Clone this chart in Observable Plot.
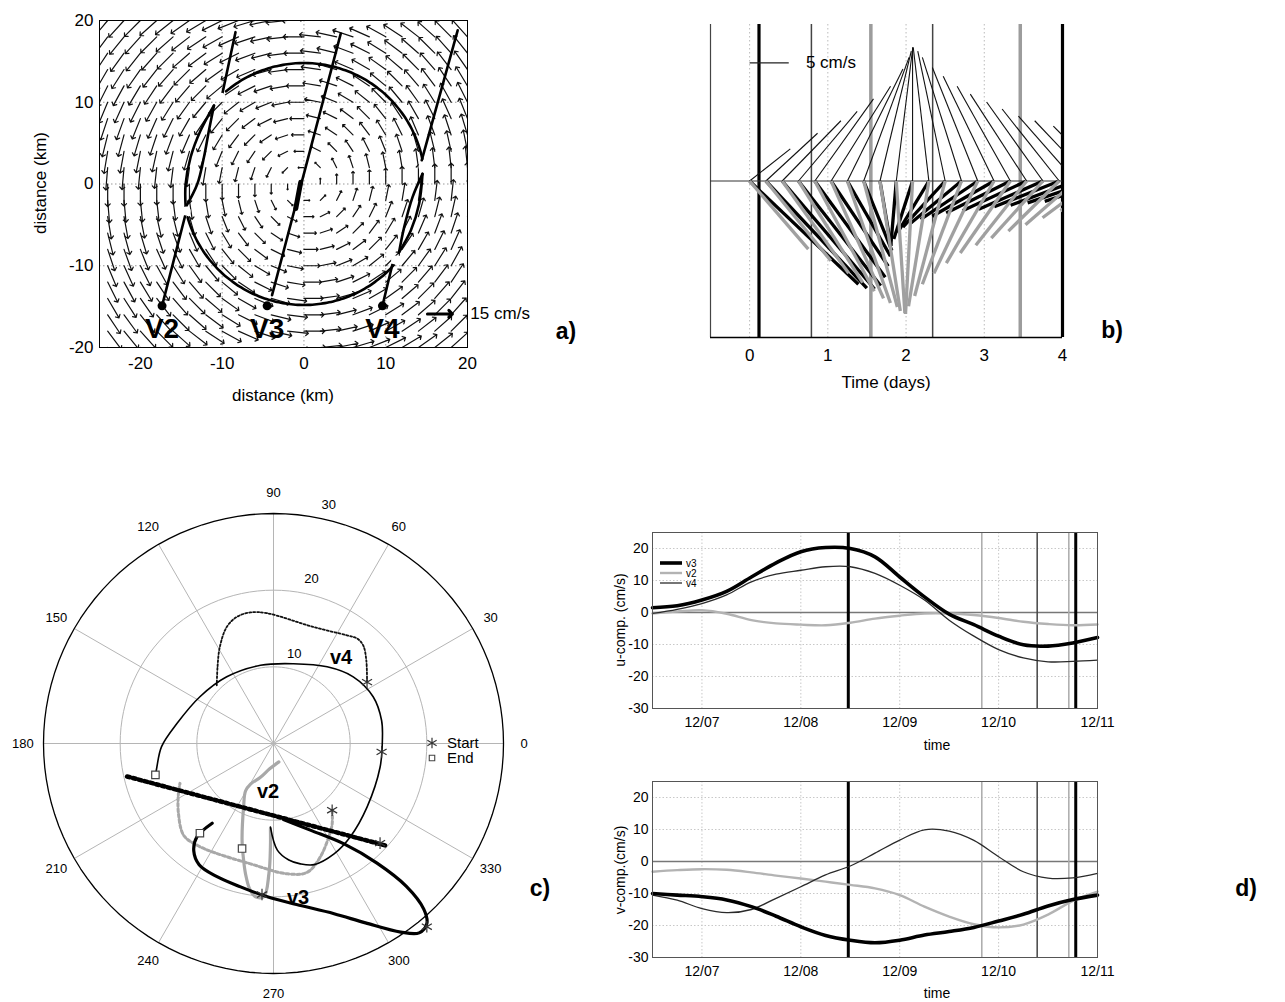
<!DOCTYPE html>
<html><head><meta charset="utf-8">
<script src="https://cdn.jsdelivr.net/npm/d3@7"></script>
<script src="https://cdn.jsdelivr.net/npm/@observablehq/plot@0.6"></script>
<style>
body{margin:0;background:#fff;}
#page{position:relative;width:1285px;height:1002px;overflow:hidden;font-family:"Liberation Sans",Arial,Helvetica,sans-serif;background:#fff;}
.lbl{position:absolute;white-space:nowrap;color:#000;line-height:1;}
</style></head><body><div id="page"></div>
<script>
// ================= DATA =================
// ---- panel a: vortex velocity field (grid, radial speed profile) ----
const aGridX = [-24,-22,-20,-18,-16,-14,-12,-10,-8,-6,-4,-2,0,2,4,6,8,10,12,14,16,18,20];
const aGridY = [-20,-18,-16,-14,-12,-10,-8,-6,-4,-2,0,2,4,6,8,10,12,14,16,18,20];
const aProfileR = [0, 2, 4, 6, 8, 10, 12, 14, 16, 18, 20, 24, 28, 36];      // km
const aProfileS = [0, 3.5, 6, 7.5, 8.5, 9.5, 10.5, 11.5, 12, 12.5, 13, 13.5, 13.5, 13.5]; // cm/s
const aVortexCenter = [0, 0];
const aRefSpeed = 15; // cm/s
const aRefArrowAt = [15.1, -15.9];
const aRingRadius = 14.8;
const aRingArcs = [[130, 12], [196, 318]];
const aV2Lower = [[-17.35,-14.9],[-14.47,-3.67]];
const aV2LensA = [[-14.47,-2.85],[-14.47,0],[-13.86,3.27],[-12.64,6.54],[-11.0,9.6]];
const aV2LensB = [[-14.47,-2.85],[-13.04,0],[-12.23,3.27],[-11.62,6.54],[-11.0,9.6]];
const aV2Upper = [[-9.98,11.03],[-8.37,18.57]];
const aV3Line  = [[-3.9,-13.6],[4.5,18.4]];
const aV3Bold  = [[-1.0,-3.0],[-0.4,0.2]];
const aV4Lower = [[9.6,-14.9],[10.8,-9.9]];
const aV4LensA = [[11.63,-8.36],[12.25,-5.3],[13.27,-1.63],[14.5,1.24]];
const aV4LensB = [[11.63,-8.36],[13.07,-5.7],[14.08,-2.44],[14.5,1.24]];
const aV4Upper = [[14.4,2.9],[18.8,18.8]];
const aGaps = [[-14.4,-3.3],[-10.1,10.6],[14.55,2.1],[11.2,-9.3]];
const aStartNames = ["V2","V3","V4"];
const aStartX = [-17.35,-4.5,9.6];
const aStartY = [-14.9,-14.9,-14.9];
const aTicks = [-20,-10,0,10,20];

// ---- panel b: stick plot (every 5 h) ----
const bHours = [0,5,10,15,20,25,30,35,40,45,50,55,60,65,70,75,80,85,90,95,100,105,110];
const bThinU  = [5.2,6.6,7.5,7.5,7.5,7.6,7.1,5.8,4.0,2.1,0,-2.0,-3.5,-5.0,-5.8,-6.5,-6.8,-7.2,-7.2,-7.3,-7.3,-7.3,-7.0];
const bThinV  = [4.1,6.1,7.7,8.9,10.5,12.1,14.3,15.8,16.6,17.0,17.1,17.1,16.6,15.8,14.5,13.4,12.1,11.1,10.1,9.2,8.3,7.7,7.0];
const bBlackU = [13.9,12.9,11.8,10.5,9.0,7.3,5.5,3.6,1.4,-0.7,-2.4,-4.0,-5.4,-6.5,-7.3,-7.9,-8.2,-8.2,-8.2,-8.3,-8.3,-8.2,-8.1];
const bBlackV = [-13.2,-13.7,-13.8,-13.4,-12.3,-10.9,-9.6,-8.9,-8.3,-8.3,-7.4,-6.6,-5.9,-5.4,-4.9,-4.5,-4.1,-3.8,-3.6,-3.3,-3.1,-2.8,-2.6];
const bGrayU  = [7.5,8.3,8.5,8.2,7.6,6.7,5.5,4.3,2.6,1.1,-0.9,-2.6,-3.9,-5.0,-5.6,-6.1,-6.4,-6.5,-6.6,-6.5,-6.4,-6.3,-6.1];
const bGrayV  = [-8.7,-10.2,-11.8,-13.0,-14.1,-15.0,-15.6,-16.1,-16.6,-16.9,-17.0,-16.0,-14.7,-13.2,-11.8,-10.5,-9.2,-8.2,-7.3,-6.4,-5.6,-4.7,-3.8];
const bEventsThickBlack = [0.12, 4.0];
const bEventsThin = [0.79, 2.34];
const bEventsThickGray = [1.55, 3.46];
const bTicks = [0,1,2,3,4];
const bScaleBar = 5; // cm/s

// ---- panel c: hodographs (u, v in cm/s) ----
const cV3 = [[1.3,-9.9],[4.8,-11.3],[9.2,-13.1],[13.5,-15.6],[17.3,-18.6],[19.6,-21.6],[20.0,-23.5],[19.0,-24.7],[16.6,-24.6],[12.0,-23.4],[7.9,-22.2],[3.0,-21.0],[-0.8,-20.0],[-4.3,-18.7],[-7.5,-17.3],[-9.7,-15.8],[-10.4,-14.0],[-10.0,-12.2],[-8.0,-10.4]];
const cV4 = [[-0.4,-10.9],[0.5,-13.9],[2.0,-15.2],[3.5,-15.7],[5.3,-15.8],[7.9,-14.4],[10.0,-12.2],[12.2,-8.3],[13.9,-3.1],[14.2,0.4],[14.1,3.0],[13.0,6.1],[10.4,8.7],[7.0,10.0],[2.6,10.4],[-1.7,10.2],[-6.1,8.7],[-9.6,6.1],[-12.6,2.6],[-14.6,-0.4],[-15.2,-3.0],[-15.4,-4.3]];
const cV2 = [[0.7,-2.4],[-0.5,-3.3],[-1.7,-4.4],[-3.0,-5.3],[-3.65,-6.2],[-3.9,-8.3],[-4.1,-12.6],[-3.9,-15.2],[-3.65,-17.0],[-3.1,-19.0],[-2.35,-20.0],[-1.26,-20.0],[-0.6,-17.0],[-0.4,-13.5],[-0.4,-11.1]];
const cV2Model = [[7.65,-8.7],[7.65,-10.5],[7.2,-12.2],[6.1,-14.8],[4.4,-16.8],[1.8,-17.0],[-3.0,-15.7],[-7.8,-14.2],[-9.9,-13.3],[-11.7,-12.0],[-12.4,-9.1],[-12.4,-6.5],[-12.2,-5.2]];
const cV4Model = [[12.2,8.0],[12.1,10.9],[11.7,12.8],[10.9,13.7],[9.6,14.1],[5.2,15.2],[-0.87,17.0],[-3.0,17.1],[-4.8,16.5],[-6.1,15.2],[-7.0,12.6],[-7.3,10.0],[-7.4,7.6]];
const cV3Model = [[-19.1,-4.3],[14.6,-13.3]];
const cStarts = [[12.2,8.0],[14.1,-1.1],[7.65,-8.7],[13.9,-13.0],[-1.5,-19.7],[20.0,-23.9]];
const cEnds = [[-15.4,-4.1],[-4.1,-13.7],[-9.6,-11.7]];
const cRings = [10, 20];
const cOuter = 30;
const cAngles = [0,30,60,90,120,150,180,210,240,270,300,330];

// ---- panel d: time series (day of December) ----
const dTime = [6.5,6.75,7.0,7.25,7.5,7.75,8.0,8.25,8.5,8.75,9.0,9.25,9.5,9.75,10.0,10.25,10.5,10.75,11.0];
const dU_v3 = [1.5,2.1,3.9,6.6,11.1,15.5,19.0,20.3,20.0,17.4,11.1,4.9,-0.5,-3.8,-7.4,-10.1,-10.5,-9.5,-7.8];
const dU_v2 = [-0.3,0.3,0.7,-0.4,-2.4,-3.4,-3.8,-4.0,-3.2,-1.9,-1.0,-0.3,-0.3,-0.8,-1.7,-2.9,-3.6,-4.0,-3.75];
const dU_v4 = [-0.3,1.0,2.8,5.5,9.6,12.0,13.2,14.3,14.3,12.2,8.5,3.9,-2.4,-7.4,-11.6,-14.2,-15.4,-15.3,-14.9];
const dV_v3 = [-10,-10.5,-11,-12,-14.1,-17.1,-20.4,-23.1,-24.6,-25.4,-24.6,-23.0,-21.9,-20.6,-18.6,-16.5,-13.9,-11.9,-10.5];
const dV_v2 = [-3.2,-2.7,-2.4,-2.6,-3.4,-4.4,-5.3,-6.3,-7.3,-8.4,-10.5,-14.1,-17.2,-19.6,-20.6,-19.7,-16.6,-12.3,-9.4];
const dV_v4 = [-10.5,-12.1,-14.7,-16.0,-15.0,-11.5,-7.9,-4.2,-1.4,2.6,6.7,9.9,9.5,6.6,1.5,-3.2,-5.2,-5.1,-3.7];
const dEventsThickBlack = [8.48, 10.78];
const dEventsDark = [10.39];
const dEventsLight = [9.83, 10.71];
const dXTicks = [7,8,9,10,11];
const dXTickLabels = ["12/07","12/08","12/09","12/10","12/11"];
const dYTicks = [-30,-20,-10,0,10,20];
const dSeriesNames = ["v3","v2","v4"];

// ================= RENDER =================
const FONT = "'Liberation Sans', Arial, Helvetica, sans-serif";
const page = document.getElementById("page");
const baseStyle = {background:"transparent", position:"absolute", left:"0px", top:"0px", overflow:"visible", fontFamily: FONT};
const plain = d => String(d);
function put(svg){ page.appendChild(svg); }
function label(text, x, y, o = {}) {
  const d = document.createElement("div");
  d.className = "lbl"; d.textContent = text;
  d.style.left = x + "px"; d.style.top = y + "px";
  d.style.fontSize = (o.size || 16) + "px";
  if (o.bold) d.style.fontWeight = "bold";
  const tx = o.left ? "0" : "-50%";
  d.style.transform = `translate(${tx},-50%)` + (o.rotate ? ` rotate(${o.rotate}deg)` : "");
  page.appendChild(d);
}
const rad = Math.PI / 180;

// ---------- panel a ----------
{
  const prof = d3.scaleLinear().domain(aProfileR).range(aProfileS).clamp(true);
  const field = [];
  for (const x of aGridX) for (const y of aGridY) {
    const dx = x - aVortexCenter[0], dy = y - aVortexCenter[1];
    const r = Math.hypot(dx, dy);
    if (r === 0) continue;
    const s = prof(r);
    const u = -s * dy / r, v = s * dx / r;
    field.push({x, y, s, a: Math.atan2(u, v) / rad});
  }
  const tracks = [];
  const segs = {aV2Lower, aV2LensA, aV2LensB, aV2Upper, aV3Line, aV4Lower, aV4LensA, aV4LensB, aV4Upper};
  for (const [id, pts] of Object.entries(segs)) pts.forEach(([x, y]) => tracks.push({id, x, y}));
  aRingArcs.forEach(([a0, a1], k) => {
    const n = Math.ceil(Math.abs(a1 - a0) / 2);
    for (let i = 0; i <= n; i++) {
      const a = (a0 + (a1 - a0) * i / n) * rad;
      tracks.push({id: "arc" + k, x: aVortexCenter[0] + aRingRadius * Math.cos(a), y: aVortexCenter[1] + aRingRadius * Math.sin(a)});
    }
  });
  const starts = aStartNames.map((n, i) => ({n, x: aStartX[i], y: aStartY[i]}));
  put(Plot.plot({
    width: 1285, height: 1002, marginLeft: 99, marginRight: 818, marginTop: 20, marginBottom: 655,
    x: {domain: [-25, 20]}, y: {domain: [-20, 20]},
    length: {type: "linear", domain: [0, aRefSpeed], range: [0, 25]},
    style: {...baseStyle, fontSize: "17px"},
    marks: [
      Plot.ruleX(aTicks.slice(1, -1), {stroke: "#999", strokeDasharray: "1.5,2.5"}),
      Plot.ruleY(aTicks.slice(1, -1), {stroke: "#999", strokeDasharray: "1.5,2.5"}),
      Plot.vector(field, {x: "x", y: "y", length: "s", rotate: "a", anchor: "start", r: 2, stroke: "#111", strokeWidth: 1.2, clip: true}),
      Plot.line(tracks, {x: "x", y: "y", z: "id", curve: "catmull-rom", stroke: "#000", strokeWidth: 2.6}),
      Plot.line(aV3Bold, {x: d => d[0], y: d => d[1], stroke: "#000", strokeWidth: 5}),
      Plot.dot(aGaps, {x: d => d[0], y: d => d[1], r: 4.5, fill: "#fff"}),
      Plot.dot(starts, {x: "x", y: "y", r: 4.5, fill: "#000"}),
      Plot.text(starts, {x: "x", y: d => d.y - 2.9, text: "n", fontSize: 28, fontWeight: "bold"}),
      Plot.vector([aRefArrowAt], {x: d => d[0], y: d => d[1], length: () => aRefSpeed, rotate: 90, anchor: "start", r: 2.5, stroke: "#000", strokeWidth: 3}),
      Plot.text(["15 cm/s"], {x: 20.35, y: aRefArrowAt[1], textAnchor: "start", fontSize: 17}),
      Plot.frame({stroke: "#000"}),
      Plot.axisX({ticks: aTicks, tickFormat: plain, tickSize: 0, tickPadding: 9, fontSize: 17, label: null}),
      Plot.axisY({ticks: aTicks, tickFormat: plain, tickSize: 0, tickPadding: 6, fontSize: 17, label: null})
    ]
  }));
  label("distance (km)", 283, 395, {size: 17});
  label("distance (km)", 40, 183, {size: 17, rotate: -90});
  label("a)", 566, 331, {size: 23, bold: true});
}

// ---------- panel b ----------
{
  const xPxPerDay = (1062 - 710) / 4.5, yPxPerUnit = (337 - 24) / 40;
  const f = yPxPerUnit / xPxPerDay; // days per cm/s so sticks keep true angles
  const rows = (U, V) => bHours.map((h, i) => ({t: h / 24, tx: h / 24 + f * U[i], v: V[i]}));
  put(Plot.plot({
    width: 1285, height: 1002, marginLeft: 710, marginRight: 223, marginTop: 24, marginBottom: 665,
    x: {domain: [-0.5, 4]}, y: {domain: [-20, 20], axis: null},
    style: {...baseStyle, fontSize: "17px"},
    marks: [
      Plot.ruleX([0, 1, 2, 3], {stroke: "#bbb", strokeDasharray: "1.5,2.5"}),
      Plot.ruleX(bEventsThin, {stroke: "#444", strokeWidth: 1.5}),
      Plot.ruleX(bEventsThickGray, {stroke: "#9c9c9c", strokeWidth: 3.5}),
      Plot.ruleX(bEventsThickBlack, {stroke: "#000", strokeWidth: 3.2}),
      Plot.ruleX([-0.5], {stroke: "#444", strokeWidth: 1.2}),
      Plot.ruleY([0], {stroke: "#333", strokeWidth: 1}),
      Plot.link(rows(bThinU, bThinV), {x1: "t", y1: 0, x2: "tx", y2: "v", stroke: "#111", strokeWidth: 1.1, clip: true}),
      Plot.link(rows(bBlackU, bBlackV), {x1: "t", y1: 0, x2: "tx", y2: "v", stroke: "#000", strokeWidth: 3.3, clip: true}),
      Plot.link(rows(bGrayU, bGrayV), {x1: "t", y1: 0, x2: "tx", y2: "v", stroke: "#a0a0a0", strokeWidth: 3.3, clip: true}),
      Plot.ruleY([-20], {stroke: "#000", strokeWidth: 1.5}),
      Plot.link([bScaleBar], {x1: 0, x2: d => f * d, y1: 15.1, y2: 15.1, stroke: "#222", strokeWidth: 1.2}),
      Plot.text(["5 cm/s"], {x: 0.72, y: 15.1, textAnchor: "start", fontSize: 17}),
      Plot.axisX({ticks: bTicks, tickFormat: plain, tickSize: 0, tickPadding: 11, fontSize: 17, label: null})
    ]
  }));
  label("Time (days)", 886, 382, {size: 17});
  label("b)", 1112, 330, {size: 23, bold: true});
}

// ---------- panel c ----------
{
  const ring = r => d3.range(0, 361, 3).map(a => [r * Math.cos(a * rad), r * Math.sin(a * rad)]);
  const spokes = cAngles.map(a => ({x2: cOuter * Math.cos(a * rad), y2: cOuter * Math.sin(a * rad)}));
  const angLbl = cAngles.map(a => ({t: String(a), x: 32.7 * Math.cos(a * rad), y: 32.7 * Math.sin(a * rad)}));
  const ringLbl = [...cRings, cOuter].map(r => ({t: String(r), x: (r + 2) * Math.cos(77 * rad), y: (r + 2) * Math.sin(77 * rad)}));
  const X = d => d[0], Y = d => d[1];
  put(Plot.plot({
    width: 1285, height: 1002, marginLeft: 43, marginRight: 782, marginTop: 513, marginBottom: 29,
    x: {domain: [-30, 30], axis: null}, y: {domain: [-30, 30], axis: null},
    style: {...baseStyle, fontSize: "13px"},
    marks: [
      ...cRings.map(r => Plot.line(ring(r), {x: X, y: Y, stroke: "#b5b5b5", strokeWidth: 1})),
      Plot.link(spokes, {x1: 0, y1: 0, x2: "x2", y2: "y2", stroke: "#b5b5b5", strokeWidth: 1}),
      Plot.line(ring(cOuter), {x: X, y: Y, stroke: "#000", strokeWidth: 1.3}),
      Plot.text(angLbl, {x: "x", y: "y", text: "t", fontSize: 13}),
      Plot.text(ringLbl, {x: "x", y: "y", text: "t", fontSize: 13}),
      Plot.line(cV2Model, {x: X, y: Y, curve: "catmull-rom", stroke: "#a8a8a8", strokeWidth: 3, strokeDasharray: "3,2.5"}),
      Plot.line(cV4Model, {x: X, y: Y, curve: "catmull-rom", stroke: "#111", strokeWidth: 1.8, strokeDasharray: "2,2"}),
      Plot.line(cV2, {x: X, y: Y, curve: "catmull-rom", stroke: "#a8a8a8", strokeWidth: 3.2}),
      Plot.line(cV4, {x: X, y: Y, curve: "catmull-rom", stroke: "#000", strokeWidth: 1.6}),
      Plot.line(cV3, {x: X, y: Y, curve: "catmull-rom", stroke: "#000", strokeWidth: 3.2}),
      Plot.line(cV3Model, {x: X, y: Y, stroke: "#000", strokeWidth: 4.5, strokeDasharray: "3,3"}),
      Plot.dot(cStarts, {x: X, y: Y, symbol: "asterisk", r: 5.5, stroke: "#333", strokeWidth: 1.2}),
      Plot.dot(cEnds, {x: X, y: Y, symbol: "square", r: 4.2, stroke: "#444", fill: "#fff", strokeWidth: 1.2})
    ]
  }));
  // legend
  const lg = d3.create("svg").attr("width", 90).attr("height", 32)
    .style("position", "absolute").style("left", "424px").style("top", "733px").style("overflow", "visible");
  lg.append("path").attr("d", d3.symbol(d3.symbolAsterisk, 80)()).attr("transform", "translate(8,10)").attr("stroke", "#333").attr("fill", "none").attr("stroke-width", 1.2);
  lg.append("path").attr("d", d3.symbol(d3.symbolSquare, 30)()).attr("transform", "translate(8,25)").attr("stroke", "#444").attr("fill", "#fff").attr("stroke-width", 1.1);
  lg.append("text").attr("x", 23).attr("y", 15).attr("font-size", 15).attr("font-family", FONT).text("Start");
  lg.append("text").attr("x", 23).attr("y", 30).attr("font-size", 15).attr("font-family", FONT).text("End");
  page.appendChild(lg.node());
  label("v4", 341, 657, {size: 20, bold: true});
  label("v2", 268, 791, {size: 20, bold: true});
  label("v3", 298, 897, {size: 20, bold: true});
  label("c)", 540, 888, {size: 23, bold: true});
}

// ---------- panel d ----------
function panelD(S3, S2, S4, mTop, mBottom) {
  const rows = S => dTime.map((t, i) => ({t, v: S[i]}));
  return Plot.plot({
    width: 1285, height: 1002, marginLeft: 652, marginRight: 188, marginTop: mTop, marginBottom: mBottom,
    x: {domain: [6.5, 11]}, y: {domain: [-30, 25]},
    style: {...baseStyle, fontSize: "14px"},
    marks: [
      Plot.ruleX(dXTicks.slice(0, -1), {stroke: "#c8c8c8", strokeDasharray: "1.5,2"}),
      Plot.ruleY([-20, -10, 10, 20], {stroke: "#c8c8c8", strokeDasharray: "1.5,2"}),
      Plot.ruleY([0], {stroke: "#777", strokeWidth: 1.5}),
      Plot.ruleX(dEventsLight, {stroke: "#aaa", strokeWidth: 1.5}),
      Plot.ruleX(dEventsDark, {stroke: "#444", strokeWidth: 1.5}),
      Plot.ruleX(dEventsThickBlack, {stroke: "#000", strokeWidth: 3}),
      Plot.line(rows(S2), {x: "t", y: "v", curve: "catmull-rom", stroke: "#b3b3b3", strokeWidth: 2.4}),
      Plot.line(rows(S4), {x: "t", y: "v", curve: "catmull-rom", stroke: "#2a2a2a", strokeWidth: 1.3}),
      Plot.line(rows(S3), {x: "t", y: "v", curve: "catmull-rom", stroke: "#000", strokeWidth: 3.6}),
      Plot.frame({stroke: "#555"}),
      Plot.axisX({ticks: dXTicks, tickFormat: d => dXTickLabels[dXTicks.indexOf(d)], tickSize: 0, tickPadding: 9, fontSize: 14, label: null}),
      Plot.axisY({ticks: dYTicks, tickFormat: plain, tickSize: 0, tickPadding: 4, fontSize: 14, label: null})
    ]
  });
}
put(panelD(dU_v3, dU_v2, dU_v4, 532, 294));
put(panelD(dV_v3, dV_v2, dV_v4, 781, 45));
{
  const lg = d3.create("svg").attr("width", 60).attr("height", 36)
    .style("position", "absolute").style("left", "658px").style("top", "555px").style("overflow", "visible");
  const st = [{c: "#000", w: 3.6}, {c: "#b3b3b3", w: 2.4}, {c: "#2a2a2a", w: 1.3}];
  dSeriesNames.forEach((n, i) => {
    lg.append("line").attr("x1", 2).attr("x2", 24).attr("y1", 8 + i * 10).attr("y2", 8 + i * 10).attr("stroke", st[i].c).attr("stroke-width", st[i].w);
    lg.append("text").attr("x", 28).attr("y", 11.5 + i * 10).attr("font-size", 10).attr("font-family", FONT).text(n);
  });
  page.appendChild(lg.node());
}
label("u-comp. (cm/s)", 620, 620, {size: 14, rotate: -90});
label("time", 937, 745, {size: 14});
label("v-comp.(cm/s)", 620, 870, {size: 14, rotate: -90});
label("time", 937, 993, {size: 14});
label("d)", 1246, 888, {size: 23, bold: true});
</script></body></html>
